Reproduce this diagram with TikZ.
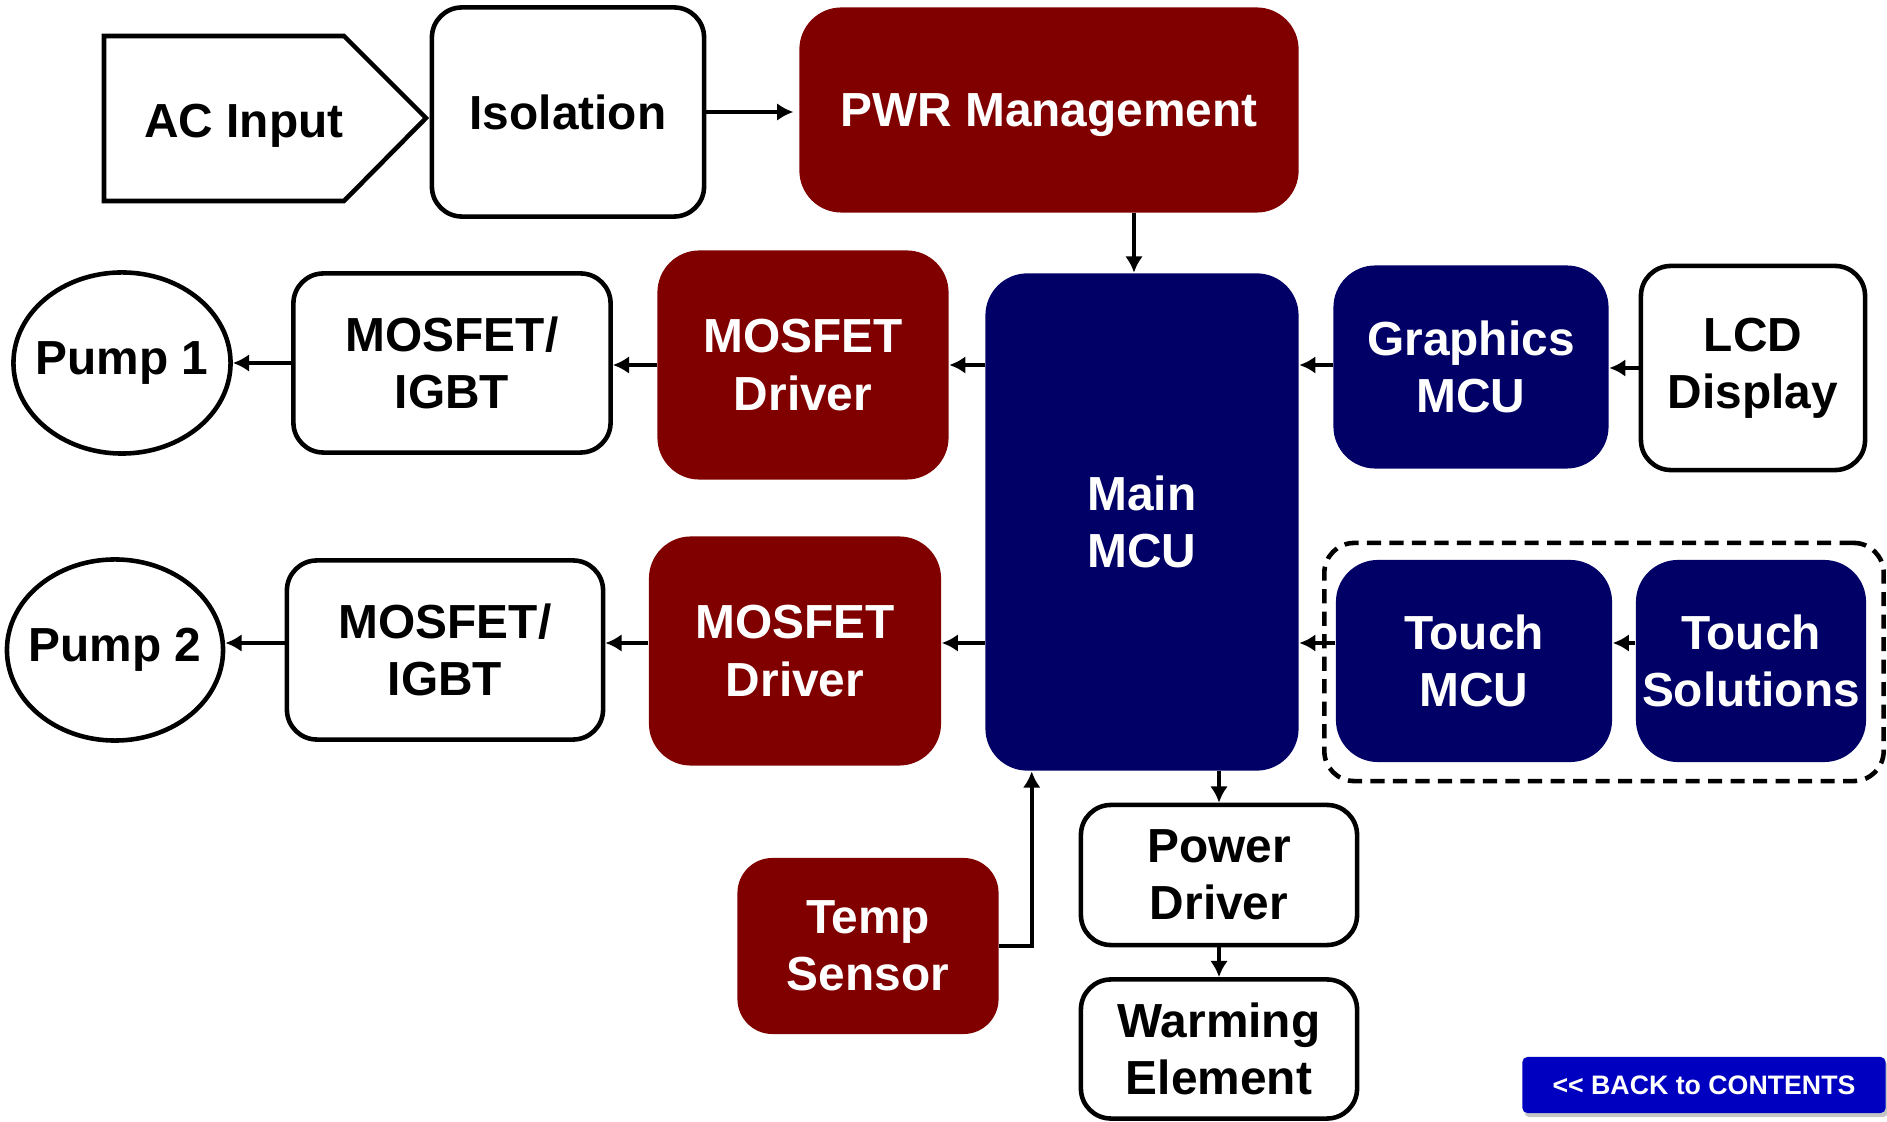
\documentclass[tikz,border=0pt]{standalone}
\usepackage{fontspec}
\setmainfont{Liberation Sans}
\usetikzlibrary{shapes.geometric,arrows.meta,shadows}

\definecolor{maroon}{RGB}{128,0,0}
\definecolor{navyblue}{RGB}{0,0,102}
\definecolor{btnblue}{RGB}{0,0,192}

\begin{document}
\begin{tikzpicture}[x=0.01cm, y=-0.01cm,
	lbl/.style={font=\fontsize{13.6}{16.3}\selectfont\bfseries, align=center, inner sep=1pt},
	wbox/.style={lbl, draw, line width=1.3pt, rounded corners=0.3cm, fill=white},
	rbox/.style={lbl, fill=maroon, text=white, rounded corners=0.42cm},
	nbox/.style={lbl, fill=navyblue, text=white, rounded corners=0.42cm},
	pump/.style={lbl, draw, line width=1.3pt, ellipse, inner sep=0pt},
	conn/.style={line width=1.1pt, -{Latex[length=4.6pt, width=5pt]}}]
	\useasboundingbox (0,0) rectangle (1887,1122);
	\coordinate (row1) at (0,365);
	\coordinate (row2) at (0,643);
	% power path
	\draw [line width=1.3pt] (104,36) -- (344,36) -- (426,118) -- (344,201) -- (104,201) -- cycle;
	\node [lbl, text depth=0pt] (acin) at (244,121) {AC Input};
	\node [wbox, minimum width=2.72cm, minimum height=2.09cm] (iso) at (568,112) {Isolation};
	\node [rbox, text depth=0pt, minimum width=4.99cm, minimum height=2.05cm] (pwr) at (1049,110) {PWR Management};
	\node [nbox, minimum width=3.13cm, minimum height=4.97cm] (main) at (1142,522) {Main\\MCU};
	\draw [conn, shorten >=1.5pt] (iso.east) -- (iso.east -| pwr.west);
	\draw [conn] ([xshift=-0.08cm]main.north |- pwr.south) -- ([xshift=-0.08cm]main.north);
	% pumps
	\node [rbox, minimum width=2.91cm, minimum height=2.29cm] (drv1) at (803,365) {MOSFET\\Driver};
	\node [wbox, minimum width=3.17cm, minimum height=1.79cm] (igbt1) at (452,363) {MOSFET/\\IGBT};
	\node [pump, minimum width=2.17cm, minimum height=1.81cm] (pump1) at (122,363) {\makebox[0pt]{Pump 1}};
	\node [rbox, minimum width=2.92cm, minimum height=2.29cm] (drv2) at (795,651) {MOSFET\\Driver};
	\node [wbox, minimum width=3.16cm, minimum height=1.79cm] (igbt2) at (445,650) {MOSFET/\\IGBT};
	\node [pump, minimum width=2.16cm, minimum height=1.81cm] (pump2) at (115,650) {\makebox[0pt]{Pump 2}};
	\draw [conn] (main.west |- row1) -- (drv1.east |- row1);
	\draw [conn] (drv1.west |- row1) -- (igbt1.east |- row1);
	\draw [conn] (igbt1.west) -- (pump1.east);
	\draw [conn] (main.west |- row2) -- (drv2.east |- row2);
	\draw [conn] (drv2.west |- row2) -- (igbt2.east |- row2);
	\draw [conn] (igbt2.west |- row2) -- (pump2.east |- row2);
	% display and touch
	\node [nbox, minimum width=2.75cm, minimum height=2.03cm] (gfx) at (1471,367) {Graphics\\MCU};
	\node [wbox, minimum width=2.24cm, minimum height=2.04cm] (lcd) at (1753,368) {LCD\\Display};
	\draw [conn] (gfx.west |- row1) -- (main.east |- row1);
	\draw [conn] (lcd.west) -- (lcd.west -| gfx.east);
	\node [draw, line width=1.3pt, dash pattern=on 4pt off 2.4pt, rounded corners=0.3cm,
		minimum width=5.59cm, minimum height=2.38cm] (touchgrp) at (1604,662) {};
	\node [nbox, minimum width=2.76cm, minimum height=2.02cm] (tmcu) at (1474,661) {Touch\\MCU};
	\node [nbox, minimum width=2.30cm, minimum height=2.02cm] (tsol) at (1751,661) {Touch\\Solutions};
	\draw [conn] (tsol.west |- row2) -- (tmcu.east |- row2);
	\draw [conn] (tmcu.west |- row2) -- (main.east |- row2);
	% heater
	\node [wbox, minimum width=2.76cm, minimum height=1.40cm] (pdrv) at (1219,875) {Power\\Driver};
	\node [wbox, minimum width=2.76cm, minimum height=1.39cm] (warm) at (1219,1049) {Warming\\Element};
	\node [rbox, minimum width=2.61cm, minimum height=1.76cm, rounded corners=0.35cm] (temp) at (868,946) {Temp\\Sensor};
	\draw [conn] (main.south -| pdrv.north) -- (pdrv.north);
	\draw [conn] (pdrv.south) -- (warm.north);
	\draw [conn] (temp.east) -| ([xshift=0.47cm]main.south west);
	% back button
	\node [fill=btnblue, text=white, rounded corners=0.05cm, minimum width=3.63cm, minimum height=0.56cm,
		font=\fontsize{7.6}{9}\selectfont\bfseries,
		drop shadow={opacity=0.45, shadow xshift=0.6pt, shadow yshift=-1.2pt}] (back) at (1704,1085) {{<}{<} BACK to CONTENTS};
\end{tikzpicture}
\end{document}
